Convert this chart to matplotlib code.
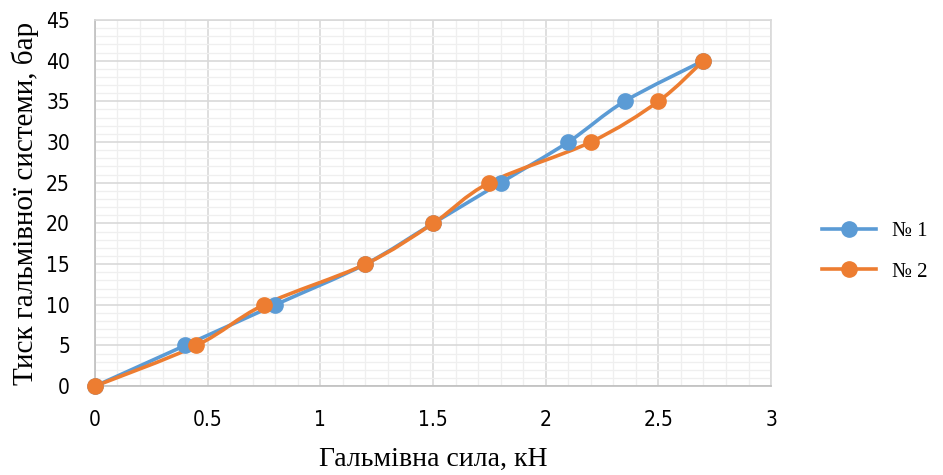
import matplotlib.pyplot as plt
import numpy as np
from matplotlib.path import Path
from matplotlib.patches import PathPatch
from matplotlib.lines import Line2D
from matplotlib.ticker import MultipleLocator, FuncFormatter

# дані
x1 = [0, 0.4, 0.8, 1.2, 1.5, 1.8, 2.1, 2.35, 2.7]
y1 = [0, 5, 10, 15, 20, 25, 30, 35, 40]
x2 = [0, 0.45, 0.75, 1.2, 1.5, 1.75, 2.2, 2.5, 2.7]
y2 = [0, 5, 10, 15, 20, 25, 30, 35, 40]
names = ["№ 1", "№ 2"]
colors = ["#5B9BD5", "#ED7D31"]

xlabel = "Гальмівна сила, кН"
ylabel = "Тиск гальмівної системи, бар"


def smooth_path(xs, ys):
    # згладжена лінія як у Excel (Catmull-Rom -> Bezier)
    p = np.column_stack([xs, ys]).astype(float)
    verts = [p[0]]
    codes = [Path.MOVETO]
    n = len(p)
    for i in range(n - 1):
        p0 = p[i - 1] if i > 0 else p[i]
        p3 = p[i + 2] if i + 2 < n else p[i + 1]
        c1 = p[i] + (p[i + 1] - p0) / 6
        c2 = p[i + 1] - (p3 - p[i]) / 6
        verts += [c1, c2, p[i + 1]]
        codes += [Path.CURVE4] * 3
    return Path(verts, codes)


fig = plt.figure(figsize=(9.43, 4.75), dpi=100)
ax = fig.add_axes([0.1007, 0.187, 0.717, 0.771])

serif = ["Liberation Serif", "DejaVu Serif"]

for xs, ys, c, nm in zip([x1, x2], [y1, y2], colors, names):
    ax.add_patch(PathPatch(smooth_path(xs, ys), fill=False, edgecolor=c,
                           lw=2.6, zorder=3, capstyle="round", joinstyle="round"))
    ax.plot(xs, ys, "o", color=c, ms=11, zorder=4, clip_on=False)

ax.set_xlim(0, 3)
ax.set_ylim(0, 45)
ax.xaxis.set_major_locator(MultipleLocator(0.5))
ax.xaxis.set_minor_locator(MultipleLocator(0.1))
ax.yaxis.set_major_locator(MultipleLocator(5))
ax.yaxis.set_minor_locator(MultipleLocator(1))
ax.xaxis.set_major_formatter(FuncFormatter(lambda v, p: f"{v:g}"))
ax.grid(which="major", color="#D9D9D9", lw=1.2)
ax.grid(which="minor", color="#EFEFEF", lw=0.9)
ax.set_axisbelow(True)
ax.tick_params(axis="x", which="both", length=0, pad=17)
ax.tick_params(axis="y", which="both", length=0, pad=18)
for lab in ax.get_xticklabels() + ax.get_yticklabels():
    lab.set_fontfamily("DejaVu Sans")
    lab.set_fontstretch("condensed")
    lab.set_fontsize(15)
for s in ax.spines.values():
    s.set_color("#D9D9D9")
    s.set_linewidth(1.2)
ax.spines["left"].set_color("#BFBFBF")
ax.spines["bottom"].set_color("#BFBFBF")

ax.set_xlabel(xlabel, family=serif, fontsize=20, labelpad=12)
ax.set_ylabel(ylabel, family=serif, fontsize=21, labelpad=5)

handles = [Line2D([], [], color=c, lw=2.6, marker="o", ms=11) for c in colors]
fig.legend(handles, names, loc="center left", bbox_to_anchor=(0.852, 0.47),
           frameon=False, prop={"family": serif, "size": 15},
           handlelength=2.6, labelspacing=1.0, handletextpad=0.75)

fig.savefig("out.png", dpi=100)
